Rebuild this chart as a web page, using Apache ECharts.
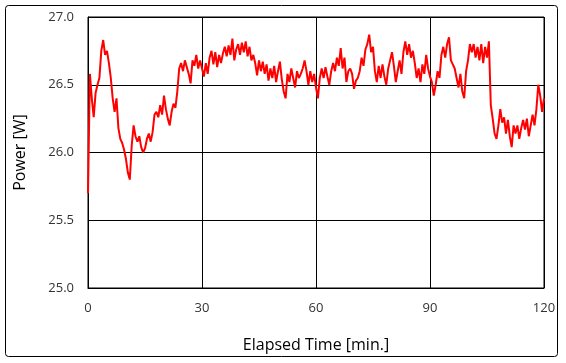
<!DOCTYPE html>
<html>
<head>
<meta charset="utf-8">
<script src="https://cdn.jsdelivr.net/npm/echarts@6/dist/echarts.min.js"></script>
<style>
html,body{margin:0;padding:0;background:#fff;}
#c{width:566px;height:363px;}
</style>
</head>
<body>
<div id="c"></div>
<script>
// Sampling step of the trace, minutes
const STEP_MIN = 0.5;
// Power [W], 0.5-min steps
const power0to30 = [
  25.70, 26.58, 26.40, 26.26, 26.44, 26.50, 26.55, 26.75, 26.83, 26.72,
  26.75, 26.66, 26.55, 26.40, 26.30, 26.40, 26.18, 26.10, 26.07, 26.02,
  25.95, 25.85, 25.80, 26.05, 26.20, 26.12, 26.08, 26.12, 26.04, 26.00,
  26.03, 26.10, 26.14, 26.08, 26.15, 26.28, 26.30, 26.26, 26.35, 26.28,
  26.42, 26.32, 26.25, 26.20, 26.30, 26.36, 26.33, 26.45, 26.62, 26.66,
  26.60, 26.68, 26.63, 26.58, 26.51, 26.68, 26.64, 26.72, 26.62, 26.68
];
const power30to60 = [
  26.62, 26.56, 26.66, 26.58, 26.70, 26.75, 26.65, 26.74, 26.63, 26.72,
  26.66, 26.73, 26.78, 26.71, 26.79, 26.72, 26.84, 26.68, 26.76, 26.80,
  26.72, 26.81, 26.74, 26.82, 26.71, 26.78, 26.68, 26.72, 26.66, 26.57,
  26.68, 26.60, 26.67, 26.58, 26.65, 26.53, 26.62, 26.55, 26.64, 26.52,
  26.60, 26.67, 26.54, 26.45, 26.40, 26.58, 26.52, 26.62, 26.55, 26.48,
  26.60, 26.55, 26.58, 26.62, 26.68, 26.60, 26.50, 26.60, 26.52, 26.58
];
const power60to90 = [
  26.48, 26.40, 26.55, 26.62, 26.55, 26.63, 26.56, 26.50, 26.60, 26.66,
  26.60, 26.70, 26.64, 26.77, 26.62, 26.70, 26.52, 26.60, 26.62, 26.58,
  26.47, 26.53, 26.55, 26.60, 26.70, 26.64, 26.76, 26.80, 26.87, 26.74,
  26.78, 26.60, 26.52, 26.64, 26.55, 26.65, 26.56, 26.50, 26.62, 26.68,
  26.74, 26.64, 26.52, 26.60, 26.68, 26.58, 26.74, 26.82, 26.72, 26.80,
  26.70, 26.75, 26.66, 26.55, 26.62, 26.52, 26.65, 26.58, 26.72, 26.62
];
const power90to120 = [
  26.56, 26.52, 26.42, 26.50, 26.60, 26.55, 26.72, 26.78, 26.70, 26.80,
  26.85, 26.68, 26.65, 26.62, 26.55, 26.48, 26.58, 26.45, 26.40, 26.60,
  26.68, 26.80, 26.74, 26.80, 26.70, 26.78, 26.68, 26.80, 26.66, 26.78,
  26.70, 26.82, 26.35, 26.25, 26.14, 26.10, 26.20, 26.32, 26.22, 26.26,
  26.14, 26.24, 26.12, 26.04, 26.20, 26.14, 26.20, 26.10, 26.18, 26.24,
  26.17, 26.25, 26.12, 26.20, 26.28, 26.20, 26.32, 26.50, 26.42, 26.30,
  26.40
];
const xTicks = [0, 30, 60, 90, 120];
const yTicks = [25.0, 25.5, 26.0, 26.5, 27.0];

const power = power0to30.concat(power30to60, power60to90, power90to120);
const seriesData = power.map((v, i) => [i * STEP_MIN, v]);

const FONT = '"Open Sans", "Noto Sans", sans-serif';
const chart = echarts.init(document.getElementById('c'), null, {renderer: 'canvas'});
chart.setOption({
  animation: false,
  backgroundColor: '#ffffff',
  textStyle: {fontFamily: FONT},
  graphic: [{
    type: 'rect',
    shape: {x: 5.5, y: 5.5, width: 552, height: 351, r: 3},
    style: {fill: 'none', stroke: '#000', lineWidth: 1},
    silent: true, z: -1
  }],
  grid: {left: 88, right: 22, top: 17, bottom: 75, show: true, borderColor: '#000', borderWidth: 1},
  xAxis: {
    type: 'value',
    min: xTicks[0], max: xTicks[xTicks.length - 1], interval: 30,
    name: 'Elapsed Time [min.]',
    nameLocation: 'middle', nameGap: 49,
    nameTextStyle: {fontSize: 16, color: '#000', fontFamily: FONT},
    axisLine: {show: true, onZero: false, lineStyle: {color: '#000', width: 1}},
    axisTick: {show: false},
    axisLabel: {fontSize: 13, color: '#333', margin: 14, fontFamily: FONT},
    splitLine: {show: true, lineStyle: {color: '#000', width: 1}}
  },
  yAxis: {
    type: 'value',
    min: yTicks[0], max: yTicks[yTicks.length - 1], interval: 0.5,
    name: 'Power [W]',
    nameLocation: 'middle', nameGap: 60, nameRotate: 90,
    nameTextStyle: {fontSize: 16, color: '#000', fontFamily: FONT},
    axisLine: {show: true, lineStyle: {color: '#000', width: 1}},
    axisTick: {show: false},
    axisLabel: {fontSize: 13, color: '#333', margin: 14, fontFamily: FONT,
      formatter: v => v.toFixed(1)},
    splitLine: {show: true, lineStyle: {color: '#000', width: 1}}
  },
  series: [{
    type: 'line',
    data: seriesData,
    showSymbol: false,
    lineStyle: {color: '#ff0000', width: 2},
    itemStyle: {color: '#ff0000'}
  }]
});
</script>
</body>
</html>
